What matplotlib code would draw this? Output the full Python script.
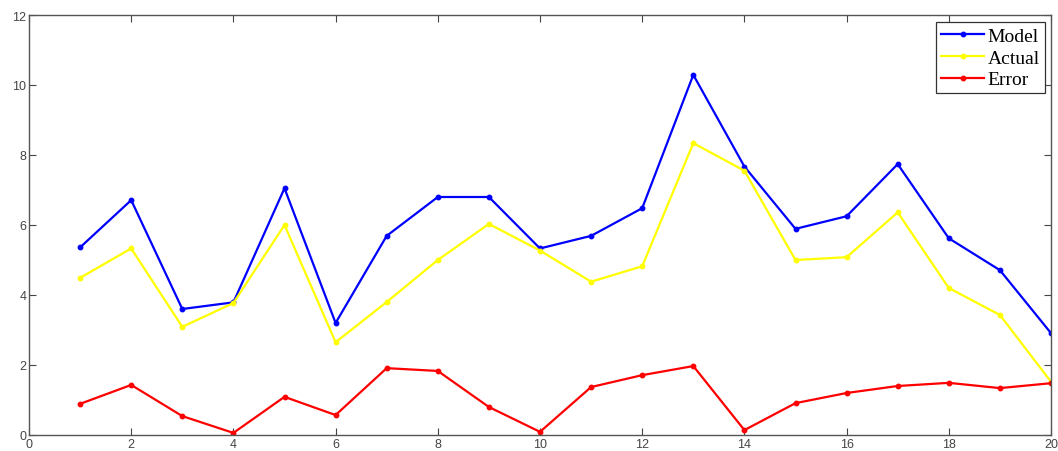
import matplotlib
matplotlib.use("Agg")
import matplotlib.pyplot as plt

x = list(range(1, 21))
model = [5.36, 6.71, 3.60, 3.79, 7.05, 3.20, 5.69, 6.80, 6.80, 5.33,
         5.69, 6.48, 10.29, 7.67, 5.89, 6.25, 7.74, 5.62, 4.71, 2.91]
actual = [4.49, 5.33, 3.09, 3.77, 6.00, 2.65, 3.80, 5.00, 6.03, 5.27,
          4.38, 4.82, 8.34, 7.55, 5.00, 5.08, 6.36, 4.20, 3.43, 1.52]
error = [0.89, 1.43, 0.54, 0.06, 1.09, 0.57, 1.91, 1.83, 0.80, 0.09,
         1.37, 1.71, 1.97, 0.14, 0.91, 1.20, 1.40, 1.49, 1.34, 1.48]
xticks = list(range(0, 21, 2))
yticks = list(range(0, 13, 2))

fig = plt.figure(figsize=(10.58, 4.52), dpi=100)
ax = fig.add_axes([29/1058, 1-436/452, 1022/1058, 420/452])

ax.plot(x, model, color="#0000ff", lw=1.6, marker="o", ms=3.2, label="Model")
ax.plot(x, actual, color="#ffff00", lw=1.6, marker="o", ms=3.2, label="Actual")
ax.plot(x, error, color="#ff0000", lw=1.6, marker="o", ms=3.2, label="Error")

ax.set_xlim(0, 20)
ax.set_ylim(0, 12)
ax.set_xticks(xticks)
ax.set_yticks(yticks)
ax.tick_params(direction="in", top=True, right=True, length=5, width=0.8,
               labelsize=9, colors="#444444", pad=2)
for lab in ax.get_xticklabels() + ax.get_yticklabels():
    lab.set_fontfamily("Liberation Sans")
for s in ax.spines.values():
    s.set_color("#555555")
    s.set_linewidth(1.0)

leg = ax.legend(loc="upper right", bbox_to_anchor=(0.994, 0.983),
                prop={"family": "Liberation Serif", "size": 14},
                handlelength=2.2, handletextpad=0.2, borderpad=0.25,
                labelspacing=0.22, fancybox=False, framealpha=1,
                borderaxespad=0)
leg.get_frame().set_edgecolor("#333333")
leg.get_frame().set_linewidth(0.9)

fig.savefig("out.png", dpi=100)
